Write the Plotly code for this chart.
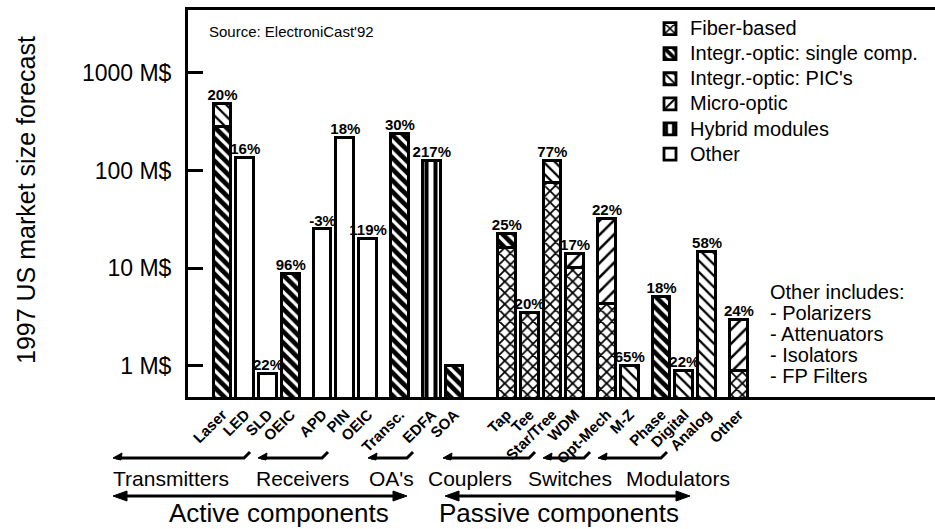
import plotly.graph_objects as go

# ---------------- data ----------------
categories = ["Laser", "LED", "SLD", "OEIC", "APD", "PIN", "OEIC", "Transc.", "EDFA", "SOA",
              "Tap", "Tee", "Star/Tree", "WDM", "Opt-Mech", "M-Z", "Phase", "Digital", "Analog", "Other"]
subgroup_sizes = [4, 3, 1, 2, 4, 2, 3, 1]   # Transmitters | Receivers | OA's ... | Modulators | Other

fiber_based = [None, None, None, None, None, None, None, None, None, None,
               16, 3.5, 75, 10, 4.3, None, None, None, None, 0.89]
io_single = [280, None, None, 8.8, None, None, None, 237, None, 1.0,
             6.5, None, None, None, None, None, 5.1, None, None, None]
io_pics = [200, None, None, None, None, None, None, None, None, None,
           None, None, 51, None, None, 1.0, None, 0.89, 14.7, None]
micro_optic = [None, None, None, None, None, None, None, None, None, None,
               None, None, None, 4.0, 27.7, None, None, None, None, 2.07]
hybrid = [None, None, None, None, None, None, None, None, 125, None,
          None, None, None, None, None, None, None, None, None, None]
other = [None, 135, 0.83, None, 25, 216, 20, None, None, None,
         None, None, None, None, None, None, None, None, None, None]

growth = ["20%", "16%", "22%", "96%", "-3%", "18%", "119%", "30%", "217%", "",
          "25%", "20%", "77%", "17%", "22%", "65%", "18%", "22%", "58%", "24%"]

y_tick_vals = [1, 10, 100, 1000]
y_tick_text = ["1 M$", "10 M$", "100 M$", "1000 M$"]

series_names = ["Fiber-based", "Integr.-optic: single comp.", "Integr.-optic: PIC's",
                "Micro-optic", "Hybrid modules", "Other"]
series_values = [fiber_based, io_single, io_pics, micro_optic, hybrid, other]

groups = ["Transmitters", "Receivers", "OA's", "Couplers", "Switches", "Modulators"]
sides = ["Active components", "Passive components"]
other_note = ["Other includes:", "- Polarizers", "- Attenuators", "- Isolators", "- FP Filters"]

# ---------------- layout helpers ----------------
FONT = "Liberation Sans, Arial, Helvetica, sans-serif"
W, H = 935, 529
L, R, T, B = 188, 0, 10, 132
PW, PH = W - L - R, H - T - B

def px(xp):   # pixel -> paper x
    return (xp - L) / PW

def py(yp):   # pixel -> paper y
    return (H - B - yp) / PH

# bar slot positions: unit step inside a sub-group, wider gaps between sub-groups
x_pos = []
p = 0.0
for gi, n in enumerate(subgroup_sizes):
    for _ in range(n):
        x_pos.append(p)
        p += 1
    p += 1.3 if gi == 3 else 0.4

UNIT = 22.75
X0 = 222.5
x_range = [(L - X0) / UNIT, (W - R - X0) / UNIT]

patterns = [
    dict(shape="x", size=8, solidity=0.4),
    dict(shape="\\", size=8, solidity=0.6),
    dict(shape="\\", size=8, solidity=0.28),
    dict(shape="/", size=10, solidity=0.25),
    dict(shape="|", size=9, solidity=0.45),
    dict(shape="", size=8, solidity=0.3),
]

fig = go.Figure()
for name, vals, pat in zip(series_names, series_values, patterns):
    fig.add_trace(go.Bar(
        x=x_pos, y=vals, name="<span style='font-size:20px'>" + name + "</span>",
        width=0.78,
        marker=dict(color="white",
                    line=dict(color="black", width=2.8),
                    pattern=dict(fgcolor="black", bgcolor="white", fillmode="replace", **pat)),
    ))

totals = []
for i in range(len(categories)):
    totals.append(sum(v[i] for v in series_values if v[i] is not None))

fig.add_trace(go.Scatter(
    x=x_pos, y=totals, text=growth, mode="text", textposition="top center",
    textfont=dict(family=FONT, size=15, color="black", weight="bold"),
    showlegend=False, cliponaxis=False, hoverinfo="skip"))

shapes = []
annotations = []

# brackets under category labels
bracket_px = [(113, 250), (258, 328), (368, 413), (443, 535), (543, 590), (598, 667)]
BY = 458
for x1, x2 in bracket_px:
    shapes.append(dict(type="path", xref="paper", yref="paper",
                       path=f"M{px(x1+3)},{py(BY)} L{px(x2-6)},{py(BY)} L{px(x2)},{py(BY-6)}",
                       line=dict(color="black", width=3)))
    shapes.append(dict(type="path", xref="paper", yref="paper",
                       path=f"M{px(x1)},{py(BY)} L{px(x1+9)},{py(BY-5)} L{px(x1+8)},{py(BY+2)} Z",
                       fillcolor="black", line=dict(color="black", width=1)))

group_centers = [171, 302, 391, 470, 570, 678]
for g, c in zip(groups, group_centers):
    annotations.append(dict(text=g, x=px(c), y=py(478), xref="paper", yref="paper",
                            showarrow=False, xanchor="center", yanchor="middle",
                            font=dict(family=FONT, size=21, color="black")))

# double-headed arrows for active / passive
AY = 496
for x1, x2 in [(113, 407), (445, 690)]:
    shapes.append(dict(type="line", xref="paper", yref="paper",
                       x0=px(x1 + 8), x1=px(x2 - 8), y0=py(AY), y1=py(AY),
                       line=dict(color="black", width=3)))
    shapes.append(dict(type="path", xref="paper", yref="paper",
                       path=f"M{px(x1)},{py(AY)} L{px(x1+14)},{py(AY-5)} L{px(x1+14)},{py(AY+5)} Z",
                       fillcolor="black", line=dict(color="black", width=1)))
    shapes.append(dict(type="path", xref="paper", yref="paper",
                       path=f"M{px(x2)},{py(AY)} L{px(x2-14)},{py(AY-5)} L{px(x2-14)},{py(AY+5)} Z",
                       fillcolor="black", line=dict(color="black", width=1)))

for s, c in zip(sides, [279, 559]):
    annotations.append(dict(text=s, x=px(c), y=py(513), xref="paper", yref="paper",
                            showarrow=False, xanchor="center", yanchor="middle",
                            font=dict(family=FONT, size=26, color="black")))

annotations.append(dict(text="Source: ElectroniCast'92", x=px(207), y=py(32),
                        xref="paper", yref="paper", showarrow=False,
                        xanchor="left", yanchor="middle",
                        font=dict(family=FONT, size=15, color="black")))

for k, line in enumerate(other_note):
    annotations.append(dict(text=line, x=px(768), y=py(292 + 21 * k),
                            xref="paper", yref="paper", showarrow=False,
                            xanchor="left", yanchor="middle",
                            font=dict(family=FONT, size=20, color="black")))

annotations.append(dict(text="1997 US market size forecast", x=px(26), y=py(200),
                        xref="paper", yref="paper", showarrow=False, textangle=-90,
                        xanchor="center", yanchor="middle",
                        font=dict(family=FONT, size=25, color="black")))

fig.update_layout(
    width=W, height=H,
    margin=dict(l=L, r=R, t=T, b=B, autoexpand=False),
    paper_bgcolor="white", plot_bgcolor="white",
    barmode="stack", bargap=0,
    font=dict(family=FONT, color="black"),
    showlegend=True,
    legend=dict(x=px(650), y=py(11), xanchor="left", yanchor="top",
                traceorder="normal", bgcolor="rgba(0,0,0,0)",
                font=dict(family=FONT, size=17, color="black")),
    shapes=shapes, annotations=annotations,
    xaxis=dict(range=x_range, tickvals=x_pos, ticktext=categories, tickangle=-45,
               ticks="", showgrid=False, zeroline=False,
               showline=True, linecolor="black", linewidth=3, mirror=True,
               tickfont=dict(family=FONT, size=15, color="black", weight="bold")),
    yaxis=dict(type="log", range=[-0.318, 3.645], tickvals=y_tick_vals, ticktext=y_tick_text,
               ticks="inside", ticklen=15, tickwidth=3, tickcolor="black",
               showgrid=False, zeroline=False, showline=True, linecolor="black", linewidth=3,
               ticklabelstandoff=9,
               tickfont=dict(family=FONT, size=23, color="black")),
)

fig.write_html("out.html", config={"displayModeBar": False},
               post_script="document.body.style.margin='0px';document.body.style.overflow='hidden';")
